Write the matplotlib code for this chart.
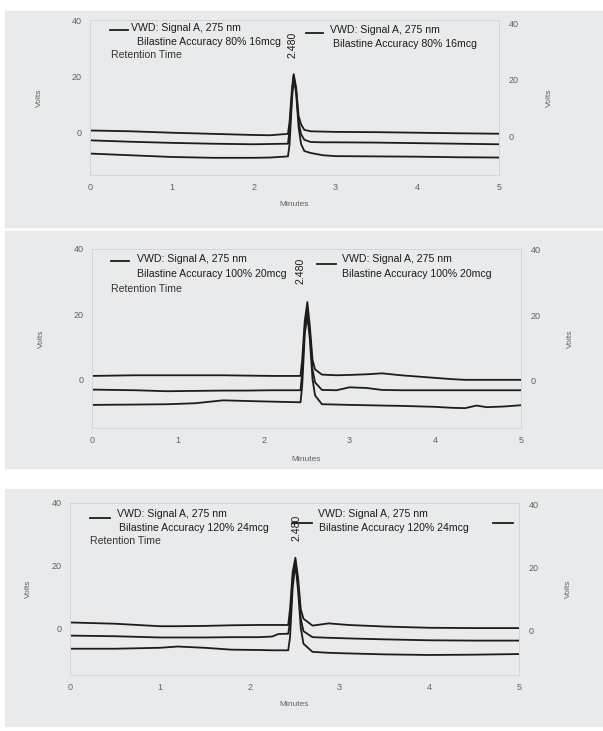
import matplotlib
matplotlib.use("Agg")
import matplotlib.pyplot as plt
from matplotlib.patches import Rectangle
from matplotlib.lines import Line2D

plt.rcParams["font.family"] = ["Liberation Sans", "DejaVu Sans"]

# ---- data (minutes, volts) ----
t_80 = [0, 0.5, 1.0, 1.5, 2.0, 2.2, 2.42, 2.44, 2.47, 2.49, 2.52, 2.55, 2.58,
        2.62, 2.7, 2.85, 3.0, 3.5, 4.0, 4.5, 5.0]
top_80 = [0.8, 0.5, 0.0, -0.4, -0.8, -0.9, -0.4, 4, 16, 20.8, 16, 6, 3,
          1.0, 0.5, 0.4, 0.3, 0.2, 0.0, -0.2, -0.35]
mid_80 = [-2.7, -3.2, -3.6, -3.9, -4.1, -4.0, -3.9, 1, 14, 20.2, 15, 4, -0.5,
          -2.5, -3.3, -3.4, -3.4, -3.5, -3.7, -3.9, -4.1]
bot_80 = [-7.4, -8.0, -8.6, -8.9, -8.9, -8.8, -8.4, -4, 12, 19.6, 14, 2, -4,
          -6.5, -7.2, -8.0, -8.3, -8.4, -8.5, -8.7, -8.8]

t_100 = [0, 0.5, 0.87, 1.2, 1.53, 1.8, 2.1, 2.43, 2.45, 2.48, 2.51, 2.54, 2.57,
         2.6, 2.68, 2.85, 3.0, 3.2, 3.38, 3.6, 4.0, 4.2, 4.35, 4.48, 4.6, 4.8, 5.0]
top_100 = [1.0, 1.2, 1.2, 1.2, 1.2, 1.1, 1.0, 1.0, 6, 18, 23.7, 16, 6,
           3, 1.4, 1.2, 1.3, 1.5, 1.8, 1.2, 0.4, 0.0, -0.2, -0.2, -0.2, -0.2, -0.2]
mid_100 = [-3.2, -3.4, -3.7, -3.6, -3.5, -3.5, -3.4, -3.4, 2, 16, 21, 14, 3,
           -1, -3.3, -3.4, -2.5, -2.7, -3.3, -3.4, -3.4, -3.4, -3.4, -3.4, -3.4, -3.4, -3.4]
bot_100 = [-7.9, -7.8, -7.7, -7.4, -6.5, -6.7, -6.9, -7.1, -2, 14, 19.5, 12, 0,
           -5, -7.7, -7.8, -7.9, -8.0, -8.1, -8.2, -8.5, -8.8, -8.9, -8.1, -8.6, -8.4, -8.0]

t_120 = [0, 0.5, 1.0, 1.2, 1.5, 1.8, 2.1, 2.25, 2.32, 2.43, 2.45, 2.48, 2.51,
         2.54, 2.57, 2.6, 2.7, 2.88, 3.1, 3.5, 4.0, 4.5, 5.0]
top_120 = [1.8, 1.4, 0.6, 0.6, 0.7, 0.9, 1.0, 1.0, 1.0, 1.0, 6, 18, 22.5,
           16, 6, 3, 0.8, 1.5, 1.0, 0.5, 0.1, 0.0, 0.0]
mid_120 = [-2.4, -2.6, -3.0, -3.0, -3.0, -2.9, -2.9, -2.7, -1.9, -1.8, 2, 16, 21.5,
           14, 3, -1, -2.9, -3.1, -3.3, -3.6, -3.9, -4.0, -4.0]
bot_120 = [-6.6, -6.6, -6.3, -5.9, -6.3, -6.9, -7.0, -7.1, -7.1, -7.1, -3, 13, 20.5,
           12, 0, -5, -7.6, -7.9, -8.1, -8.4, -8.6, -8.5, -8.3]

samples = ["Bilastine Accuracy 80% 16mcg", "Bilastine Accuracy 100% 20mcg",
           "Bilastine Accuracy 120% 24mcg"]
retention = "2.480"
x_ticks = [0, 1, 2, 3, 4, 5]
y_ticks = [0, 20, 40]

W, H = 603, 731
BG = "#e9eaec"
INK = "#1c1c1c"
GREY = "#606060"


def fx(x):
    return x / W


def fy(y):
    return 1 - y / H


# pixel layout of each scanned panel
panels = [
    dict(t=t_80, ys=(top_80, mid_80, bot_80), bg=(5, 11, 603, 227),
         ax=(90, 20, 499, 175), rlim=(-13.9, 41.4),
         vl=-0.115, vr=1.115, mlab=6,
         leg1=(110, 128, 30), vwd1=(131, 28), bil1=(137, 42), ret=(111, 55),
         rt=(293, 45),
         leg2=(306, 323, 33), vwd2=(330, 30), bil2=(333, 44), leg3=None),
    dict(t=t_100, ys=(top_100, mid_100, bot_100), bg=(5, 231, 603, 468),
         ax=(92, 249, 521, 428), rlim=(-14.4, 40.3),
         vl=-0.11, vr=1.107, mlab=8,
         leg1=(111, 129, 261), vwd1=(137, 259), bil1=(137, 274), ret=(111, 289),
         rt=(301, 271),
         leg2=(317, 336, 264), vwd2=(342, 259), bil2=(342, 274), leg3=None),
    dict(t=t_120, ys=(top_120, mid_120, bot_120), bg=(5, 489, 603, 726),
         ax=(70, 503, 519, 675), rlim=(-14.0, 40.6),
         vl=-0.085, vr=1.102, mlab=6,
         leg1=(90, 110, 518), vwd1=(117, 514), bil1=(119, 528), ret=(90, 541),
         rt=(296, 528),
         leg2=(292, 312, 523), vwd2=(318, 514), bil2=(319, 528),
         leg3=(493, 513, 523)),
]

fig = plt.figure(figsize=(W / 100, H / 100), dpi=100)

for i, p in enumerate(panels):
    x0, y0, x1, y1 = p["bg"]
    fig.patches.append(Rectangle((fx(x0), fy(y1)), (x1 - x0) / W, (y1 - y0) / H,
                                 transform=fig.transFigure, color=BG, zorder=-5))

    l, t, r, b = p["ax"]
    ax = fig.add_axes([fx(l), fy(b), (r - l) / W, (b - t) / H])
    ax.set_facecolor("none")
    for y in p["ys"]:
        ax.plot(p["t"], y, color=INK, lw=1.3, solid_joinstyle="round")
    ax.set_xlim(0, 5)
    ax.set_ylim(-15, 40)
    ax.set_xticks(x_ticks)
    ax.set_yticks(y_ticks)
    ax.tick_params(length=0, labelsize=6.5, colors=GREY, pad=6)
    for s in ax.spines.values():
        s.set_color("#d4d5d7")
        s.set_linewidth(0.7)
    ax.set_xlabel("Minutes", fontsize=6, color=GREY, labelpad=p["mlab"])
    ax.set_ylabel("Volts", fontsize=6, color=GREY)
    ax.yaxis.set_label_coords(p["vl"], 0.5)

    ax2 = ax.twinx()
    ax2.set_ylim(*p["rlim"])
    ax2.set_yticks(y_ticks)
    ax2.tick_params(length=0, labelsize=6.5, colors=GREY, pad=7)
    for s in ax2.spines.values():
        s.set_visible(False)
    ax2.set_ylabel("Volts", fontsize=6, color=GREY)
    ax2.yaxis.set_label_coords(p["vr"], 0.5)

    # legend-like header text of the chromatography software
    for key in ("leg1", "leg2", "leg3"):
        if p[key] is None:
            continue
        a, c, yy = p[key]
        fig.add_artist(Line2D([fx(a), fx(c)], [fy(yy), fy(yy)], color=INK, lw=1.3))
    for key, txt in (("vwd1", "VWD: Signal A, 275 nm"), ("bil1", samples[i]),
                     ("vwd2", "VWD: Signal A, 275 nm"), ("bil2", samples[i])):
        xx, yy = p[key]
        fig.text(fx(xx), fy(yy), txt, fontsize=7.6, color=INK, va="center", ha="left")
    xx, yy = p["ret"]
    fig.text(fx(xx), fy(yy), "Retention Time", fontsize=7.6, color="#333333",
             va="center", ha="left")
    xx, yy = p["rt"]
    fig.text(fx(xx), fy(yy), retention, fontsize=7.6, color=INK, rotation=90,
             va="center", ha="center")

fig.savefig("out.png", dpi=100)
